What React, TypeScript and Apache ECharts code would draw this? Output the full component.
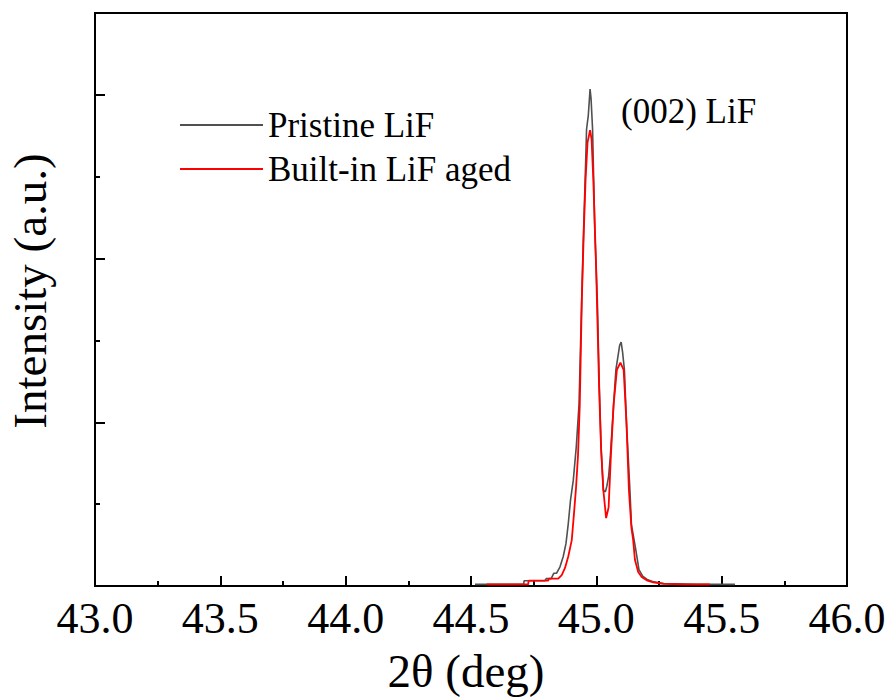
import React, { useEffect, useRef } from "react";
import * as echarts from "echarts";

const xTicks = [43.0, 43.5, 44.0, 44.5, 45.0, 45.5, 46.0];
const seriesNames = ["Pristine LiF", "Built-in LiF aged"];
const annotation = "(002) LiF";
const xTitle = "2θ (deg)";
const yTitle = "Intensity (a.u.)";

const pristineX = [
  44.516, 44.6, 44.71, 44.712, 44.795, 44.8, 44.82, 44.83, 44.841, 44.855, 44.868, 44.879, 44.888,
  44.897, 44.908, 44.92, 44.931, 44.938, 44.947, 44.957, 44.961, 44.968, 44.975, 44.979, 44.985,
  44.994, 45.004, 45.012, 45.019, 45.028, 45.036, 45.042, 45.049, 45.056, 45.069, 45.078, 45.093,
  45.099, 45.105, 45.112, 45.12, 45.134, 45.14, 45.157, 45.17, 45.185, 45.205, 45.23, 45.27, 45.4,
  45.553,
];
const pristineY = [
  0.02, 0.02, 0.02, 0.065, 0.065, 0.09, 0.09, 0.155, 0.155, 0.235, 0.36, 0.52, 0.76,
  1.05, 1.29, 1.7, 2.22, 3.06, 4.12, 5.14, 5.58, 5.75, 6.07, 5.95, 5.58,
  4.33, 3.49, 2.43, 1.68, 1.17, 1.15, 1.22, 1.34, 1.59, 2.22, 2.64, 2.94,
  2.98, 2.85, 2.64, 2.01, 1.17, 0.75, 0.45, 0.2, 0.12, 0.075, 0.05, 0.03, 0.02,
  0.02,
];

const agedX = [
  44.562, 44.65, 44.728, 44.73, 44.808, 44.81, 44.848, 44.862, 44.875, 44.888, 44.902, 44.911,
  44.919, 44.927, 44.934, 44.942, 44.95, 44.957, 44.965, 44.975, 44.981, 44.988, 44.999, 45.011,
  45.019, 45.028, 45.039, 45.049, 45.058, 45.069, 45.082, 45.096, 45.109, 45.12, 45.13, 45.14,
  45.147, 45.154, 45.167, 45.181, 45.201, 45.227, 45.267, 45.35, 45.453,
];
const agedY = [
  0.02, 0.02, 0.02, 0.065, 0.065, 0.09, 0.09, 0.134, 0.22, 0.36, 0.56, 0.89,
  1.2, 1.6, 2.22, 3.49, 4.33, 4.96, 5.42, 5.57, 5.46, 4.96, 3.91, 2.43,
  1.68, 1.17, 0.83, 0.96, 1.59, 2.22, 2.64, 2.73, 2.64, 2.01, 1.17, 0.71,
  0.56, 0.32, 0.17, 0.11, 0.07, 0.045, 0.025, 0.02, 0.02,
];

const FONT = "'Liberation Serif', 'Times New Roman', serif";

export default function App() {
  const ref = useRef<HTMLDivElement>(null);
  useEffect(() => {
    if (!ref.current) return;
    const chart = echarts.init(ref.current, null, { renderer: "svg" });
    const zip = (xs: number[], ys: number[]) => xs.map((x, i) => [x, ys[i]]);
    const tickStyle = { color: "#000", width: 2 };
    chart.setOption({
      animation: false,
      backgroundColor: "#fff",
      grid: {
        left: 95,
        right: 43,
        top: 13,
        bottom: 114,
        show: true,
        borderColor: "#000",
        borderWidth: 2,
        backgroundColor: "transparent",
      },
      legend: {
        orient: "vertical",
        left: 175,
        top: 102,
        itemWidth: 83,
        itemHeight: 2,
        itemGap: 8,
        textStyle: { fontFamily: FONT, fontSize: 35, color: "#000", lineHeight: 36 },
        data: [
          { name: seriesNames[0], icon: "rect", itemStyle: { color: "#505050" } },
          { name: seriesNames[1], icon: "rect", itemStyle: { color: "#ff0000" } },
        ],
      },
      xAxis: {
        type: "value",
        min: 43,
        max: 46,
        interval: 0.5,
        axisLine: { lineStyle: { color: "#000", width: 2 } },
        axisTick: { inside: true, length: 10, lineStyle: tickStyle },
        minorTick: { show: true, splitNumber: 2, length: 5, lineStyle: tickStyle },
        splitLine: { show: false },
        axisLabel: {
          margin: 10,
          fontFamily: FONT,
          fontSize: 44,
          color: "#000",
          formatter: (v: number) => (xTicks.some((t) => Math.abs(t - v) < 1e-6) ? v.toFixed(1) : ""),
        },
      },
      yAxis: [
        {
          type: "value",
          position: "left",
          min: 0,
          max: 7,
          interval: 1,
          axisLine: { show: true, lineStyle: { color: "#000", width: 2 } },
          axisTick: { show: true, inside: true, length: 5, lineStyle: tickStyle },
          axisLabel: { show: false },
          splitLine: { show: false },
        },
        {
          type: "value",
          position: "left",
          min: 0,
          max: 7,
          interval: 2,
          axisLine: { show: false },
          axisTick: { show: true, inside: true, length: 10, lineStyle: tickStyle },
          axisLabel: { show: false },
          splitLine: { show: false },
        },
      ],
      series: [
        {
          name: seriesNames[0],
          type: "line",
          yAxisIndex: 0,
          symbol: "none",
          data: zip(pristineX, pristineY),
          lineStyle: { color: "#505050", width: 1.6 },
          itemStyle: { color: "#505050" },
          z: 2,
        },
        {
          name: seriesNames[1],
          type: "line",
          yAxisIndex: 0,
          symbol: "none",
          data: zip(agedX, agedY),
          lineStyle: { color: "#ff0000", width: 1.8 },
          itemStyle: { color: "#ff0000" },
          z: 3,
        },
      ],
      graphic: [
        {
          type: "text",
          left: 621,
          top: 94,
          style: { text: annotation, font: `35px ${FONT}`, fill: "#000" },
        },
        {
          type: "text",
          x: 466,
          y: 671,
          style: {
            text: xTitle,
            font: `47px ${FONT}`,
            fill: "#000",
            align: "center",
            verticalAlign: "middle",
          },
        },
        {
          type: "text",
          x: 30,
          y: 291,
          rotation: Math.PI / 2,
          style: {
            text: yTitle,
            font: `47px ${FONT}`,
            fill: "#000",
            align: "center",
            verticalAlign: "middle",
          },
        },
      ],
    });
    return () => chart.dispose();
  }, []);
  return (
    <div
      ref={ref}
      style={{ position: "fixed", left: 0, top: 0, width: 890, height: 700, background: "#fff" }}
    />
  );
}
